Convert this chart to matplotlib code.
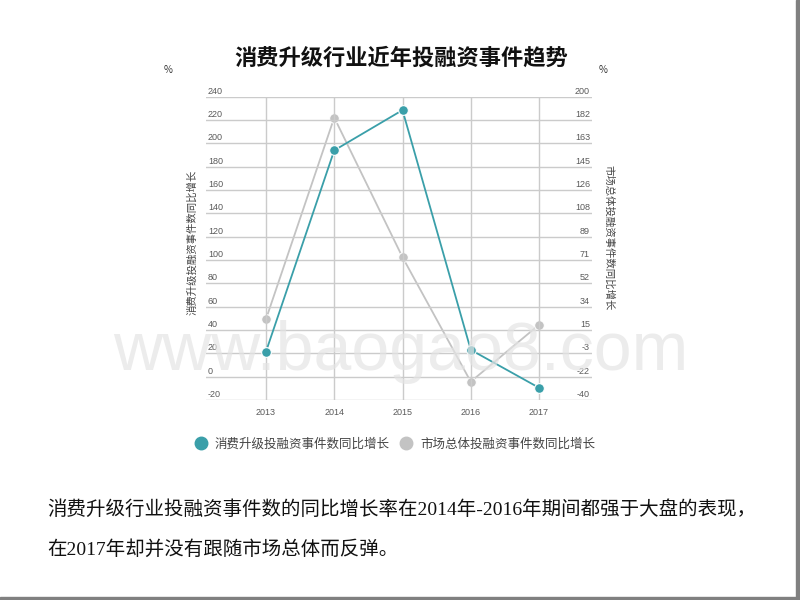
import numpy as np
import matplotlib
matplotlib.use('Agg')
import matplotlib.pyplot as plt
from matplotlib.lines import Line2D
from matplotlib.patches import Rectangle
from matplotlib.transforms import ScaledTranslation

plt.rcParams['font.family'] = ['Noto Sans CJK SC', 'DejaVu Sans']
plt.rcParams['axes.unicode_minus'] = False

# data
years = ['2013', '2014', '2015', '2016', '2017']
consume_growth = [21.5, 194, 228.5, 23, -9.5]      # left axis, %
market_growth = [24, 183.5, 73, -25.5, 19.5]       # right axis, %
left_ticks = [240, 220, 200, 180, 160, 140, 120, 100, 80, 60, 40, 20, 0, -20]
right_labels = ['200', '182', '163', '145', '126', '108', '89', '71',
                '52', '34', '15', '-3', '-22', '-40']

teal = '#3a9fa9'
grey = '#c3c3c3'
tick_col = '#5a5a5a'

fig = plt.figure(figsize=(8, 6), dpi=100)
W, H = 800, 600
ax = fig.add_axes([206 / W, 1 - 400 / H, (592 - 206) / W, (400 - 96.7) / H])
ax2 = ax.twinx()
ax.set_zorder(ax2.get_zorder() + 1)
ax.patch.set_visible(False)

x = np.arange(len(years))
ax.set_xlim(-60 / 68.25, 4 + 53 / 68.25)
ax.set_ylim(-20, 240)
ax2.set_ylim(-40, 200)

# lines
ax2.plot(x, market_growth, color=grey, lw=1.3, marker='o', ms=7,
         mfc=grey, mec='white', mew=0.8)
ax.plot(x, consume_growth, color=teal, lw=1.3, marker='o', ms=7,
        mfc=teal, mec='white', mew=0.8)

# grid
ax.set_yticks(left_ticks)
ax.set_xticks(x, years)
ax.grid(True, color='#cbcbcb', lw=1)
ax2.set_yticks(np.linspace(-40, 200, len(right_labels)), right_labels[::-1])
for a in (ax, ax2):
    for s in a.spines.values():
        s.set_visible(False)

ax.tick_params(axis='y', length=0, pad=0, labelsize=6.5, labelcolor=tick_col)
ax2.tick_params(axis='y', length=0, pad=0, labelsize=6.5, labelcolor=tick_col)
ax.tick_params(axis='x', length=0, pad=6, labelsize=6.5, labelcolor=tick_col)

# tick labels sit just above the grid lines, inside the grid span
up = 6.5 / 100
for lbl in ax.get_yticklabels():
    lbl.set_fontfamily(['Liberation Sans', 'DejaVu Sans'])
    lbl.set_horizontalalignment('left')
    lbl.set_transform(lbl.get_transform() + ScaledTranslation(0.02, up, fig.dpi_scale_trans))
for lbl in ax2.get_yticklabels():
    lbl.set_fontfamily(['Liberation Sans', 'DejaVu Sans'])
    lbl.set_horizontalalignment('right')
    lbl.set_transform(lbl.get_transform() + ScaledTranslation(-0.02, up, fig.dpi_scale_trans))
for lbl in ax.get_xticklabels():
    lbl.set_fontfamily(['Liberation Sans', 'DejaVu Sans'])

ax.set_ylabel('消费升级投融资事件数同比增长', fontsize=7.5, color='#444444', va='center')
ax.yaxis.set_label_coords((192 - 206) / 386, (400 - 242) / 303.3)
ax2.set_ylabel('市场总体投融资事件数同比增长', fontsize=7.5, color='#444444',
               rotation=-90, va='center')
ax2.yaxis.set_label_coords((609 - 206) / 386, (400 - 238) / 303.3)

fig.text(401 / W, 1 - 58 / H, '消费升级行业近年投融资事件趋势', fontsize=16,
         fontweight='bold', ha='center', va='center', color='#111111')
fig.text(168 / W, 1 - 70 / H, '%', fontsize=7, ha='center', va='center', color='#333333')
fig.text(603 / W, 1 - 70 / H, '%', fontsize=7, ha='center', va='center', color='#333333')

handles = [Line2D([], [], ls='', marker='o', ms=9, color=teal),
           Line2D([], [], ls='', marker='o', ms=9, color=grey)]
fig.legend(handles, ['消费升级投融资事件数同比增长', '市场总体投融资事件数同比增长'],
           loc='center', bbox_to_anchor=(395 / W, 1 - 444 / H), ncol=2,
           frameon=False, fontsize=9, handlelength=1, handletextpad=0.6,
           columnspacing=0.8, labelcolor='#444444')

# watermark
fig.text(401 / W, 1 - 370 / H, 'www.baogao8.com', fontsize=49,
         fontfamily='Liberation Sans', ha='center', va='baseline',
         color='#e4e4e4', alpha=0.7, zorder=10)

body = ['消费升级行业投融资事件数的同比增长率在2014年-2016年期间都强于大盘的表现，',
        '在2017年却并没有跟随市场总体而反弹。']
fig.text(47 / W, 1 - 510 / H, body[0], fontsize=14, va='center',
         fontfamily=['Liberation Serif', 'Noto Sans CJK SC'], color='#111111')
fig.text(47 / W, 1 - 550 / H, body[1], fontsize=14, va='center',
         fontfamily=['Liberation Serif', 'Noto Sans CJK SC'], color='#111111')

# slide frame on right and bottom edge
fig.patches.append(Rectangle((796 / W, 0), 4 / W, 1, transform=fig.transFigure,
                             color='#808080', zorder=20))
fig.patches.append(Rectangle((0, 0), 1, 3 / H, transform=fig.transFigure,
                             color='#808080', zorder=20))

fig.savefig('out.png', dpi=100)
